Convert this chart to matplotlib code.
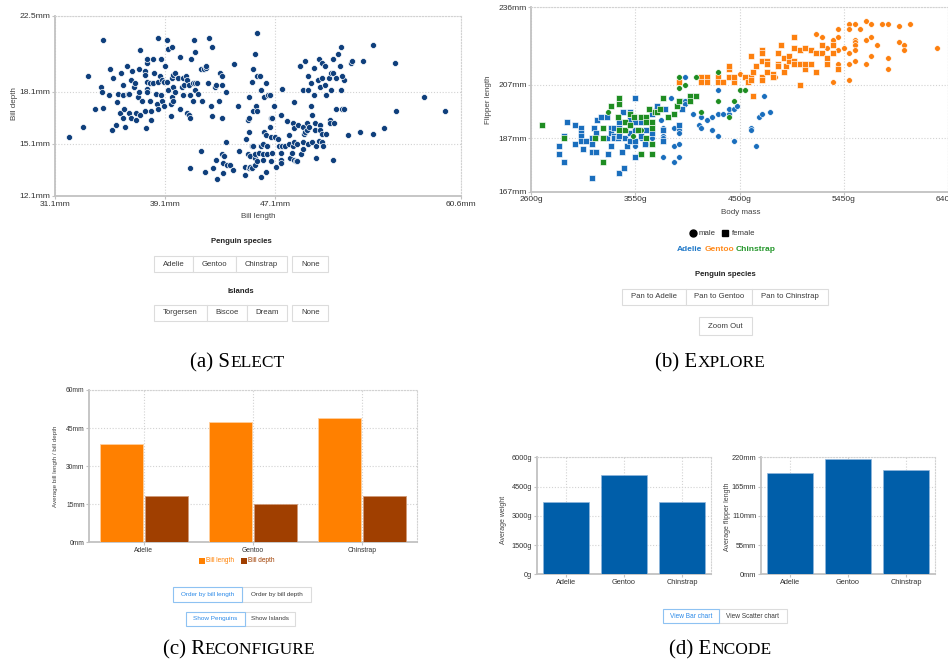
import matplotlib
matplotlib.use("Agg")
import matplotlib.pyplot as plt
from matplotlib.patches import Rectangle
from matplotlib.lines import Line2D
import numpy as np

# ---------------------------------------------------------------- data
# (a) bill length vs bill depth, all penguins
bill_length = [
    32.1, 33.1, 33.5, 34.0, 34.4, 34.5, 34.6, 34.6, 35.0, 35.1, 35.2, 35.3, 35.5, 35.6,
    35.7, 35.8, 35.9, 36.0, 36.0, 36.0, 36.1, 36.2, 36.3, 36.4, 36.5, 36.5, 36.6, 36.6,
    36.7, 36.8, 36.9, 37.0, 37.0, 37.1, 37.2, 37.2, 37.3, 37.3, 37.4, 37.6, 37.6, 37.6,
    37.7, 37.8, 37.8, 37.8, 37.8, 37.8, 38.0, 38.0, 38.1, 38.1, 38.2, 38.2, 38.3, 38.4,
    38.5, 38.6, 38.6, 38.6, 38.7, 38.8, 38.8, 38.9, 38.9, 39.0, 39.0, 39.1, 39.2, 39.2,
    39.3, 39.3, 39.5, 39.5, 39.6, 39.6, 39.6, 39.7, 39.7, 39.7, 39.8, 39.8, 40.0, 40.0,
    40.2, 40.2, 40.3, 40.4, 40.4, 40.5, 40.6, 40.7, 40.7, 40.8, 40.8, 40.9, 40.9, 41.0,
    41.1, 41.1, 41.2, 41.3, 41.3, 41.3, 41.4, 41.5, 41.7, 41.8, 41.9, 42.1, 42.1, 42.2,
    42.3, 42.4, 42.5, 42.5, 42.7, 42.8, 43.0, 43.1, 43.2, 43.2, 43.2, 43.5, 44.1, 44.4,
    40.9, 41.7, 42.0, 42.8, 42.6, 42.9, 43.2, 43.3, 43.4, 43.3, 43.5, 43.6, 43.8, 44.0,
    44.5, 44.9, 44.9, 45.0, 45.1, 45.1, 45.2, 45.2, 45.2, 45.2, 45.3, 45.3, 45.4, 45.4,
    45.4, 45.5, 45.5, 45.5, 45.6, 45.6, 45.6, 45.6, 45.7, 45.8, 45.8, 45.8, 45.8, 45.9,
    46.0, 46.1, 46.1, 46.1, 46.2, 46.2, 46.2, 46.3, 46.3, 46.4, 46.4, 46.4, 46.5, 46.5,
    46.6, 46.7, 46.7, 46.8, 46.8, 46.8, 46.9, 46.9, 47.0, 47.1, 47.2, 47.3, 47.4, 47.5,
    47.5, 47.5, 47.5, 47.6, 47.6, 47.8, 48.0, 48.1, 48.1, 48.2, 48.3, 48.4, 48.4, 48.5,
    48.5, 48.5, 48.5, 48.6, 48.7, 48.7, 48.8, 48.9, 48.9, 49.0, 49.1, 49.1, 49.1, 49.1,
    49.2, 49.3, 49.3, 49.4, 49.4, 49.5, 49.5, 49.5, 49.6, 49.7, 49.7, 49.8, 49.8, 49.9,
    49.9, 50.0, 50.0, 50.1, 50.1, 50.2, 50.3, 50.3, 50.4, 50.4, 50.4, 50.5, 50.5, 50.5,
    50.5, 50.6, 50.7, 50.7, 50.8, 50.8, 51.0, 51.1, 51.1, 51.2, 51.2, 51.3, 51.3, 51.3,
    51.4, 51.5, 51.5, 51.7, 51.8, 51.9, 51.9, 52.0, 52.1, 52.1, 52.0, 52.4, 52.6, 52.7,
    53.3, 53.5, 54.2, 54.2, 55.0, 55.8, 55.9, 57.9, 59.5,
]
bill_depth = [
    15.5, 16.1, 19.0, 17.1, 18.4, 18.1, 21.1, 17.2, 17.9, 19.4, 15.9, 18.9, 16.2, 17.5,
    18.0, 16.9, 19.2, 16.6, 17.9, 18.5, 17.1, 16.1, 19.6, 18.0, 16.9, 18.0, 16.6, 18.8,
    19.3, 18.4, 18.6, 16.9, 16.5, 17.8, 19.4, 18.1, 20.5, 16.8, 17.6, 19.3, 19.1, 17.0,
    16.0, 19.8, 20.0, 18.7, 18.3, 18.1, 18.6, 17.6, 16.5, 17.0, 18.6, 20.0, 19.2, 18.0,
    17.4, 21.2, 17.1, 18.7, 19.0, 20.0, 17.9, 17.6, 18.8, 17.3, 18.7, 19.6, 21.1, 18.7,
    20.6, 18.2, 16.7, 17.4, 17.8, 18.9, 20.7, 18.4, 17.6, 19.1, 18.1, 19.2, 18.9, 18.9,
    20.1, 17.1, 18.4, 17.9, 18.9, 18.5, 19.0, 16.9, 18.8, 18.5, 16.8, 17.9, 16.6, 20.0,
    17.6, 18.6, 21.1, 20.4, 18.6, 18.2, 18.6, 18.0, 19.4, 17.6, 19.4, 19.5, 19.6, 18.6,
    21.2, 17.3, 20.7, 16.7, 18.4, 18.5, 17.6, 19.2, 19.0, 16.6, 18.5, 18.1, 19.7, 17.3,
    13.7, 14.7, 13.5, 14.2, 13.7, 13.1, 14.5, 13.4, 14.4, 14.0, 15.2, 13.9, 13.9, 13.6,
    14.7, 13.8, 13.3, 15.4, 14.5, 16.5, 16.6, 15.8, 17.8, 13.7, 13.8, 14.4, 18.7, 15.0,
    13.7, 15.0, 17.0, 19.4, 20.3, 13.9, 14.3, 14.5, 17.3, 21.5, 19.0, 17.0, 14.1, 14.6,
    19.0, 18.2, 13.2, 15.0, 14.2, 15.1, 14.5, 15.8, 17.8, 18.6, 15.6, 13.5, 15.0, 14.5,
    17.9, 17.9, 16.1, 16.6, 15.5, 14.1, 16.6, 14.6, 17.3, 15.5, 13.8, 15.4, 15.0, 14.2,
    16.8, 14.6, 14.0, 18.3, 15.0, 15.0, 16.4, 15.1, 15.6, 14.3, 14.6, 16.3, 15.0, 17.5,
    14.2, 16.0, 15.2, 14.1, 14.1, 15.1, 16.2, 19.6, 19.6, 14.5, 14.8, 15.2, 16.1, 18.2,
    15.7, 19.9, 15.8, 15.9, 16.3, 19.0, 15.1, 18.2, 16.1, 18.6, 17.3, 16.8, 15.2, 19.5,
    17.9, 15.9, 16.3, 15.0, 14.3, 18.8, 20.0, 15.3, 16.2, 15.9, 18.4, 19.8, 15.7, 18.9,
    15.2, 15.0, 19.6, 18.5, 15.7, 17.9, 18.9, 16.5, 16.3, 19.2, 18.2, 20.0, 14.2, 19.2,
    16.3, 17.1, 18.9, 20.3, 19.6, 20.7, 18.2, 17.1, 17.1, 18.8, 19.0, 15.6, 19.8, 19.9,
    15.8, 19.9, 15.7, 20.8, 16.0, 19.8, 17.0, 17.8, 17.0,
]

# (b) body mass vs flipper length by species and sex (m = male, f = female)
adelie_mass = [
    2850, 2850, 2900, 2900, 2925, 3000, 3000, 3050, 3050, 3050, 3050, 3075, 3100, 3150,
    3150, 3150, 3150, 3175, 3190, 3190, 3200, 3240, 3290, 3290, 3300, 3325, 3325, 3325,
    3350, 3350, 3350, 3390, 3400, 3400, 3400, 3400, 3425, 3440, 3445, 3450, 3475, 3500,
    3500, 3500, 3500, 3550, 3550, 3550, 3550, 3550, 3550, 3590, 3600, 3600, 3600, 3640,
    3650, 3650, 3700, 3700, 3700, 3740, 3750, 3785, 3800, 3800, 3800, 3800, 3800, 3800,
    3820, 3875, 3900, 3900, 3900, 3950, 3950, 3950, 3950, 3950, 3975, 3975, 4000, 4000,
    4000, 4075, 4125, 4150, 4150, 4200, 4250, 4250, 4300, 4300, 4300, 4350, 4400, 4400,
    4450, 4450, 4475, 4600, 4600, 4650, 4675, 4700, 4725, 4775,
]
adelie_flipper = [
    184, 181, 178, 188, 193, 192, 185, 191, 189, 188, 186, 183, 186, 187,
    185, 182, 172, 191, 189, 182, 194, 195, 195, 187, 181, 191, 189, 184,
    188, 191, 187, 187, 174, 193, 191, 188, 182, 197, 176, 187, 184, 197,
    194, 186, 189, 202, 193, 190, 186, 184, 180, 181, 193, 188, 187, 185,
    190, 185, 196, 189, 187, 198, 199, 194, 191, 190, 188, 187, 186, 180,
    198, 202, 191, 184, 178, 192, 190, 189, 185, 180, 201, 198, 210, 201,
    200, 196, 192, 195, 191, 194, 190, 195, 205, 188, 196, 196, 196, 198,
    186, 198, 199, 191, 190, 184, 195, 196, 203, 197,
]
adelie_sex = [
    "ffffffffffffff",
    "ffffffffffffff",
    "ffffffffffffff",
    "fffffffmfmffmf",
    "fmffmmfmmfmmfm",
    "fmmmmfmmmmmfmm",
    "mmmmmmmmmmmmmm",
    "mmmmmmmmmm",
]

chinstrap_mass = [
    2700, 2900, 3185, 3250, 3250, 3250, 3300, 3325, 3390, 3400, 3400, 3400, 3450, 3450,
    3500, 3500, 3525, 3540, 3575, 3600, 3600, 3600, 3650, 3650, 3650, 3675, 3700, 3700,
    3700, 3700, 3725, 3750, 3770, 3800, 3850, 3900, 3925, 3950, 3950, 3950, 4000, 4050,
    4050, 4100, 4100, 4150, 4300, 4300, 4400, 4450, 4500, 4550,
]
chinstrap_flipper = [
    192, 187, 187, 191, 187, 178, 197, 199, 195, 202, 200, 190, 193, 190,
    196, 192, 188, 195, 190, 195, 190, 181, 195, 193, 187, 198, 193, 191,
    185, 181, 197, 197, 198, 202, 195, 196, 199, 210, 206, 201, 207, 203,
    201, 210, 203, 197, 201, 212, 195, 201, 205, 205,
]
chinstrap_sex = [
    "ffffffmfffffff",
    "ffmfffmfffffff",
    "fffffffffmmfmf",
    "fmfmmmmmmm",
]

gentoo_mass = [
    3950, 4150, 4150, 4200, 4200, 4300, 4300, 4350, 4400, 4400, 4400, 4450, 4450, 4500,
    4550, 4575, 4600, 4600, 4600, 4625, 4625, 4650, 4700, 4700, 4700, 4700, 4700, 4750,
    4750, 4750, 4800, 4800, 4825, 4850, 4850, 4850, 4875, 4900, 4900, 4925, 4950, 4950,
    5000, 5000, 5000, 5000, 5050, 5050, 5050, 5100, 5100, 5100, 5150, 5150, 5200, 5200,
    5200, 5250, 5250, 5250, 5300, 5300, 5300, 5350, 5350, 5350, 5350, 5400, 5400, 5400,
    5400, 5400, 5450, 5500, 5500, 5500, 5500, 5500, 5550, 5550, 5550, 5550, 5550, 5550,
    5600, 5650, 5650, 5650, 5700, 5700, 5700, 5750, 5800, 5850, 5850, 5850, 5950, 5950,
    6000, 6000, 6050, 6300,
]
gentoo_flipper = [
    208, 210, 208, 210, 208, 210, 208, 208, 213, 214, 210, 208, 210, 211,
    210, 208, 210, 209, 218, 203, 212, 214, 220, 219, 216, 210, 209, 216,
    215, 212, 211, 210, 210, 219, 215, 214, 222, 217, 212, 214, 216, 218,
    225, 221, 216, 215, 220, 207, 215, 221, 213, 215, 220, 215, 226, 219,
    212, 222, 225, 219, 217, 215, 221, 208, 224, 222, 219, 228, 225, 220,
    215, 213, 221, 230, 228, 219, 215, 209, 230, 224, 223, 222, 220, 216,
    228, 231, 224, 215, 230, 225, 218, 222, 230, 230, 217, 213, 229, 223,
    222, 220, 230, 221,
]
gentoo_sex = [
    "fffffffffffffm",
    "ffffffffffffff",
    "ffffmfffffffff",
    "ffffffffffffmf",
    "ffmfffmmmffmmm",
    "mfmmmmmmmmmmmm",
    "mmmmmmmmmmmmmm",
    "mmmm",
]

# (c) average bill length / depth per species
species = ["Adelie", "Gentoo", "Chinstrap"]
avg_bill_length = [38.8, 47.5, 48.8]
avg_bill_depth = [18.35, 14.98, 18.42]

# (d) average weight and flipper length per species
avg_weight = [3700, 5076, 3733]
avg_flipper = [190.0, 217.2, 195.8]

# axis ticks
a_xticks = [31.1, 39.1, 47.1, 60.6]
a_yticks = [12.1, 15.1, 18.1, 22.5]
b_xticks = [2600, 3550, 4500, 5450, 6400]
b_yticks = [167, 187, 207, 236]
c_yticks = [0, 15, 30, 45, 60]
d_wticks = [0, 1500, 3000, 4500, 6000]
d_fticks = [0, 55, 110, 165, 220]

# interface controls
species_buttons = ["Adelie", "Gentoo", "Chinstrap"]
island_buttons = ["Torgersen", "Biscoe", "Dream"]
pan_buttons = ["Pan to Adelie", "Pan to Gentoo", "Pan to Chinstrap"]

# ---------------------------------------------------------------- setup
W, H = 948, 661
plt.rcParams["font.family"] = ["Liberation Sans", "DejaVu Sans"]
fig = plt.figure(figsize=(W / 100, H / 100), dpi=100)
fig.patch.set_facecolor("white")

GRID = "#d2d2d2"
AXIS = "#c2c2c2"
TEXT = "#333333"
NAVY = "#0f3f7c"
BLUE = "#1a6ebd"
ORANGE = "#fd800f"
GREEN = "#1f8d22"


def fx(x):
    return x / W


def fy(y):
    return 1 - y / H


def box(l, t, r, b):
    return [l / W, 1 - b / H, (r - l) / W, (b - t) / H]


def style_axes(ax, fs):
    for s in ("top", "right"):
        ax.spines[s].set_linestyle((0, (1, 1.6)))
        ax.spines[s].set_color(GRID)
        ax.spines[s].set_linewidth(0.8)
    for s in ("left", "bottom"):
        ax.spines[s].set_color(AXIS)
        ax.spines[s].set_linewidth(1.3)
    ax.grid(True, color=GRID, linestyle=(0, (1, 1.6)), linewidth=0.8)
    ax.set_axisbelow(True)
    ax.tick_params(length=2.5, width=0.8, color=AXIS, labelsize=fs,
                   labelcolor=TEXT, pad=0.8)


def label(x, y, s, fs, rot=0, **kw):
    kw.setdefault("color", "#444444")
    fig.text(fx(x), fy(y), s, fontsize=fs, rotation=rot,
             ha="center", va="center", **kw)


def button(x0, y0, x1, y1, s, fs, active=False):
    ec = "#8ec2f2" if active else "#dcdcdc"
    tc = "#2c8ae8" if active else "#3a3a3a"
    fig.add_artist(Rectangle((fx(x0), fy(y1)), (x1 - x0) / W, (y1 - y0) / H,
                             transform=fig.transFigure, fc="white", ec=ec,
                             lw=0.8, zorder=3 if active else 2))
    fig.text(fx((x0 + x1) / 2), fy((y0 + y1) / 2), s, fontsize=fs,
             ha="center", va="center", color=tc, zorder=4)


def caption(xc, yb, head, tail):
    r = fig.canvas.get_renderer()
    t1 = fig.text(0, fy(yb), head, fontsize=15, family="Liberation Serif",
                  ha="left", va="baseline", color="black")
    t2 = fig.text(0, fy(yb), tail, fontsize=12.5, family="Liberation Serif",
                  ha="left", va="baseline", color="black")
    w1 = t1.get_window_extent(r).width
    w2 = t2.get_window_extent(r).width
    x = xc - (w1 + w2) / 2
    t1.set_x(fx(x))
    t2.set_x(fx(x + w1))


# ---------------------------------------------------------------- (a) Select
axa = fig.add_axes(box(55.3, 15.7, 460.6, 196))
style_axes(axa, 6.1)
axa.scatter(bill_length, bill_depth, s=19, c=NAVY, edgecolors="white",
            linewidths=0.5, zorder=3)
axa.set_xlim(a_xticks[0], a_xticks[-1])
axa.set_ylim(a_yticks[0], a_yticks[-1])
axa.set_xticks(a_xticks, [f"{v}mm" for v in a_xticks])
axa.set_yticks(a_yticks, [f"{v}mm" for v in a_yticks])
label(258, 217, "Bill length", 5.8)
label(15, 104, "Bill depth", 5.8, rot=90)

label(241, 241.5, "Penguin species", 5.6, weight="bold", color="#222222")
edges = [154, 193.3, 236, 287.3]
for i, s in enumerate(species_buttons):
    button(edges[i], 256, edges[i + 1], 272, s, 5.6)
button(292.3, 256, 328.3, 272, "None", 5.6)
label(241, 291, "Islands", 5.6, weight="bold", color="#222222")
edges = [154, 207.3, 247.3, 287.3]
for i, s in enumerate(island_buttons):
    button(edges[i], 305, edges[i + 1], 321, s, 5.6)
button(292.3, 305, 328.3, 321, "None", 5.6)

# ---------------------------------------------------------------- (b) Explore
axb = fig.add_axes(box(531.3, 7.5, 948, 191.7))
style_axes(axb, 6.1)
for mass, flip, sex, col in ((adelie_mass, adelie_flipper, adelie_sex, BLUE),
                             (gentoo_mass, gentoo_flipper, gentoo_sex, ORANGE),
                             (chinstrap_mass, chinstrap_flipper, chinstrap_sex, GREEN)):
    m = np.array(mass)
    f = np.array(flip)
    sx = np.array(list("".join(sex)))
    axb.scatter(m[sx == "m"], f[sx == "m"], s=17, marker="o", c=col,
                edgecolors="white", linewidths=0.45, zorder=3)
    axb.scatter(m[sx == "f"], f[sx == "f"], s=14, marker="s", c=col,
                edgecolors="white", linewidths=0.45, zorder=3)
axb.set_xlim(b_xticks[0], b_xticks[-1])
axb.set_ylim(b_yticks[0], b_yticks[-1])
axb.set_xticks(b_xticks, [f"{v}g" for v in b_xticks])
axb.set_yticks(b_yticks, [f"{v}mm" for v in b_yticks])
label(741, 212.5, "Body mass", 5.8)
label(489, 100, "Flipper length", 5.8, rot=90)

fig.add_artist(Line2D([fx(692.7)], [fy(233.3)], marker="o", ms=5, color="black",
                      transform=fig.transFigure))
fig.text(fx(698.5), fy(233.3), "male", fontsize=5.6, ha="left", va="center",
         color=TEXT)
fig.add_artist(Line2D([fx(725.3)], [fy(233.3)], marker="s", ms=4.6, color="black",
                      transform=fig.transFigure))
fig.text(fx(731.5), fy(233.3), "female", fontsize=5.6, ha="left", va="center",
         color=TEXT)
for s, x, col in zip(species, [676.7, 704.3, 736], ["#1f78c8", "#ff8a1c", "#24972b"]):
    fig.text(fx(x), fy(250), s, fontsize=6.0, weight="bold", color=col,
             ha="left", va="center")
label(725, 274, "Penguin species", 5.6, weight="bold", color="#222222")
edges = [622.3, 685.7, 752.3, 827.7]
for i, s in enumerate(pan_buttons):
    button(edges[i], 289, edges[i + 1], 304.5, s, 5.6)
button(698.7, 317.5, 751.7, 335, "Zoom Out", 5.6)

# ---------------------------------------------------------------- (c) Reconfigure
axc = fig.add_axes(box(89.3, 390, 416.7, 542.3))
style_axes(axc, 4.8)
xc = np.arange(len(species))
axc.bar(xc - 0.205, avg_bill_length, width=0.39, color="#ff8000",
        edgecolor="#ffcf9e", linewidth=0.6, zorder=3)
axc.bar(xc + 0.205, avg_bill_depth, width=0.39, color="#a03f00",
        edgecolor="#d09a78", linewidth=0.6, zorder=3)
axc.set_xlim(-0.5, 2.5)
axc.set_ylim(c_yticks[0], c_yticks[-1])
axc.set_xticks(xc, species)
axc.set_yticks(c_yticks, [f"{v}mm" for v in c_yticks])
axc.tick_params(axis="x", labelsize=4.9)
label(56, 466.5, "Average bill length / bill depth", 4.5, rot=90)
for x0, s, col in ((199.3, "Bill length", "#ff8000"), (240.7, "Bill depth", "#a03f00")):
    fig.add_artist(Rectangle((fx(x0), fy(563.7)), 5.8 / W, 5.8 / H,
                             transform=fig.transFigure, fc=col, ec="none"))
    fig.text(fx(x0 + 7.2), fy(560.8), s, fontsize=4.7, color=col,
             ha="left", va="center")
button(242.3, 587.3, 310.7, 601.7, "Order by bill depth", 4.6)
button(172.7, 587.3, 242.3, 601.7, "Order by bill length", 4.6, active=True)
button(245, 611.7, 295, 626, "Show Islands", 4.6)
button(186, 611.7, 245, 626, "Show Penguins", 4.6, active=True)

# ---------------------------------------------------------------- (d) Encode
DBLUE = "#005ea9"
axd1 = fig.add_axes(box(536.7, 457.3, 711, 574.3))
style_axes(axd1, 5.3)
axd1.bar(xc, avg_weight, width=0.8, color=DBLUE, edgecolor="#8fb6dc",
         linewidth=0.5, zorder=3)
axd1.set_xlim(-0.5, 2.5)
axd1.set_ylim(d_wticks[0], d_wticks[-1])
axd1.set_xticks(xc, species)
axd1.set_yticks(d_wticks, [f"{v}g" for v in d_wticks])
label(504, 520, "Average weight", 5.0, rot=90)

axd2 = fig.add_axes(box(761, 457.3, 935, 574.3))
style_axes(axd2, 5.3)
axd2.bar(xc, avg_flipper, width=0.8, color=DBLUE, edgecolor="#8fb6dc",
         linewidth=0.5, zorder=3)
axd2.set_xlim(-0.5, 2.5)
axd2.set_ylim(d_fticks[0], d_fticks[-1])
axd2.set_xticks(xc, species)
axd2.set_yticks(d_fticks, [f"{v}mm" for v in d_fticks])
label(727.3, 516.7, "Average flipper length", 5.0, rot=90)

button(719.3, 609.3, 786.7, 623.3, "View Scatter chart", 4.7)
button(663.3, 609.3, 719.3, 623.3, "View Bar chart", 4.7, active=True)

# ---------------------------------------------------------------- captions
caption(237.5, 367.3, "(a) S", "ELECT")
caption(710, 367.3, "(b) E", "XPLORE")
caption(239, 654, "(c) R", "ECONFIGURE")
caption(720, 654, "(d) E", "NCODE")

fig.savefig("out.png", dpi=100, facecolor="white")
